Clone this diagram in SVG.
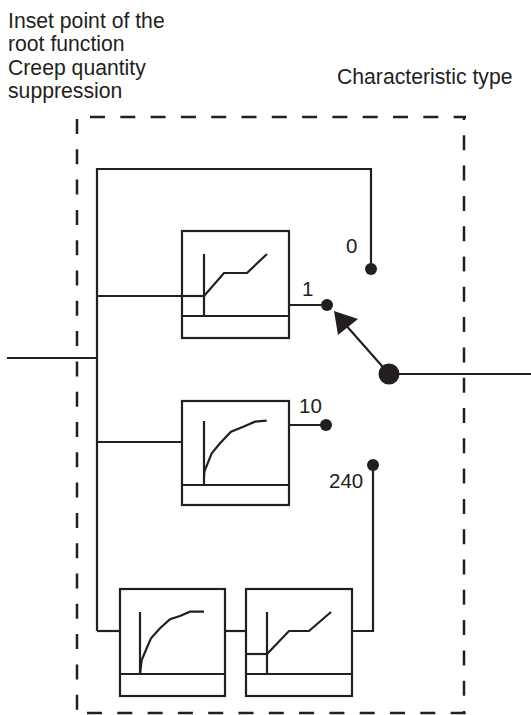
<svg xmlns="http://www.w3.org/2000/svg" width="531" height="715" viewBox="0 0 531 715">
<style>
  .ln{fill:none;stroke:#231f20;stroke-width:2.2;stroke-linejoin:miter}
  .bx{fill:#fff;stroke:#231f20;stroke-width:2.2}
  .dash{fill:none;stroke:#231f20;stroke-width:2.5;stroke-dasharray:15 15.3}
  .dot{fill:#231f20}
  text{font-family:"Liberation Sans",Arial,sans-serif;font-size:21.2px;fill:#231f20}
  .num{font-size:20.5px}
</style>
<rect width="531" height="715" fill="#fff"/>

<g id="labels">
  <text x="8" y="27.5">Inset point of the</text>
  <text x="8" y="51">root function</text>
  <text x="8" y="74.5">Creep quantity</text>
  <text x="8" y="98">suppression</text>
  <text x="337" y="84">Characteristic type</text>
</g>

<g id="frame">
  <line class="dash" x1="90" y1="117" x2="466" y2="117"/>
  <line class="dash" x1="464" y1="117" x2="464" y2="714" style="stroke-dashoffset:12"/>
  <line class="dash" x1="77" y1="119" x2="77" y2="712"/>
  <line class="dash" x1="87" y1="713" x2="466" y2="713"/>
</g>

<g id="connectors">
  <path class="ln" d="M7,358 H97"/>
  <path class="ln" d="M97,631 V169 H371 V269"/>
  <path class="ln" d="M97,296 H204"/>
  <path class="ln" d="M97,442 H182"/>
  <path class="ln" d="M97,631 H120"/>
  <path class="ln" d="M225,631 H246"/>
  <path class="ln" d="M352,631 H373 V465"/>
  <path class="ln" d="M289,305 H327"/>
  <path class="ln" d="M289,425 H326"/>
  <path class="ln" d="M389,374 H531"/>
  <path class="ln" d="M389,374 L344,323"/>
  <polygon class="dot" points="334,311 338,335 358,319"/>
</g>

<g id="switch-contacts">
  <circle class="dot" cx="371" cy="269" r="6"/>
  <circle class="dot" cx="327" cy="305" r="6"/>
  <circle class="dot" cx="326" cy="425" r="6"/>
  <circle class="dot" cx="373" cy="465" r="6"/>
  <circle class="dot" cx="389" cy="374" r="10.5"/>
  <text class="num" x="346" y="253">0</text>
  <text class="num" x="302" y="296">1</text>
  <text class="num" x="299" y="413">10</text>
  <text class="num" x="329" y="488">240</text>
</g>

<g id="block-1">
  <rect class="bx" x="182" y="231" width="107" height="107"/>
  <path class="ln" d="M182,316 H289"/>
  <path class="ln" d="M182,296 H204"/>
  <path class="ln" d="M204,254 V316"/>
  <path class="ln" d="M204,296 L224,273 H247 L267,254"/>
</g>

<g id="block-10">
  <rect class="bx" x="182" y="401" width="107" height="104"/>
  <path class="ln" d="M182,485 H289"/>
  <path class="ln" d="M204,421 V485"/>
  <path class="ln" d="M204,478 L204.3,471.7 L211.7,453.3 L220,443.3 L231,431.7 L243.3,426.7 L255,421.7 L266.7,420.7"/>
</g>

<g id="block-240a">
  <rect class="bx" x="120" y="589" width="105" height="107"/>
  <path class="ln" d="M120,674 H225"/>
  <path class="ln" d="M140,612 V674"/>
  <path class="ln" d="M140,674 L141.7,660 L147.3,646.7 L151,638.3 L160,628.3 L170,619.3 L180,616 L190,611.7 L204,611.7"/>
</g>

<g id="block-240b">
  <rect class="bx" x="246" y="589" width="106" height="107"/>
  <path class="ln" d="M246,674 H352"/>
  <path class="ln" d="M246,654 H267"/>
  <path class="ln" d="M267,612 V674"/>
  <path class="ln" d="M267,654 L289,631 H309 L331,612"/>
</g>
</svg>
